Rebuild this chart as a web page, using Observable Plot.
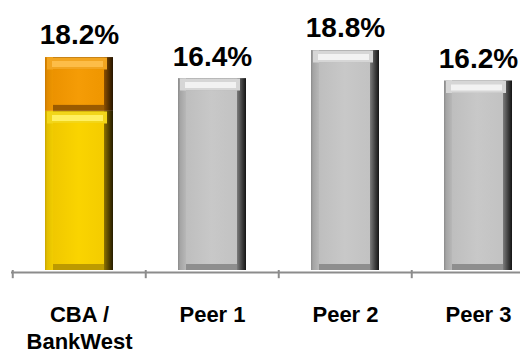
<!DOCTYPE html>
<html>
<head>
<meta charset="utf-8">
<script src="https://cdn.jsdelivr.net/npm/d3@7"></script>
<script src="https://cdn.jsdelivr.net/npm/@observablehq/plot@0.6"></script>
<style>
  html, body { margin: 0; padding: 0; background: #fff; }
  #chart { width: 520px; height: 355px; overflow: hidden; }
</style>
</head>
<body>
<div id="chart"></div>
<script>
// ---- data ----
const categories = ["CBA / BankWest", "Peer 1", "Peer 2", "Peer 3"];
const tickLabels = ["CBA /\nBankWest", "Peer 1", "Peer 2", "Peer 3"];
const totals = [18.2, 16.4, 18.8, 16.2];
const cbaSegments = ["Core", "BankWest"];
const cbaValues = [13.6, 4.6];

// ---- palettes (styling) ----
const palettes = {
  gray:   {side: "url(#side-gray)",   top1: "#d6d6d6", top2: "#f2f2f2", face: "url(#face-gray)"},
  yellow: {side: "url(#side-yellow)", top1: "#f2d61a", top2: "#fff060", face: "url(#face-yellow)"},
  orange: {side: "url(#side-orange)", top1: "#f2a520", top2: "#fdbd48", face: "url(#face-orange)"}
};

// segments table
const segments = [];
let acc = 0;
cbaSegments.forEach((s, i) => {
  segments.push({cat: categories[0], y1: acc, y2: acc + cbaValues[i], pal: palettes[i === 0 ? "yellow" : "orange"]});
  acc += cbaValues[i];
});
categories.slice(1).forEach((c, i) => {
  segments.push({cat: c, y1: 0, y2: totals[i + 1], pal: palettes.gray});
});
const labels = categories.map((c, i) => ({cat: c, total: totals[i], tick: tickLabels[i]}));

const font = "'Liberation Sans', Arial, Helvetica, sans-serif";

const svg = Plot.plot({
  width: 520,
  height: 355,
  marginLeft: 11,
  marginRight: 0,
  marginTop: 36,
  marginBottom: 85,
  style: {fontFamily: font, background: "white", color: "black"},
  x: {domain: categories, range: [11, 545], paddingInner: 0.49, paddingOuter: 0.245, axis: null},
  y: {domain: [0, 20], axis: null},
  color: {type: "identity"},
  marks: [
    // bevelled bars
    Plot.barY(segments, {x: "cat", y1: "y1", y2: "y2", fill: d => d.pal.side}),
    Plot.tickY(segments, {x: "cat", y: "y2", stroke: d => d.pal.top1, strokeWidth: 12, dy: 6, insetLeft: 2, insetRight: 6}),
    Plot.tickY(segments, {x: "cat", y: "y2", stroke: d => d.pal.top2, strokeWidth: 6, dy: 6.5, insetLeft: 7, insetRight: 10}),
    Plot.barY(segments, {x: "cat", y1: "y1", y2: "y2", fill: d => d.pal.face, insetLeft: 8, insetRight: 9, insetTop: 12, insetBottom: 6}),
    // axis baseline and boundary ticks
    Plot.ruleY([0], {stroke: "#8c8c8c", strokeWidth: 2, dy: 2}),
    Plot.ruleX(categories, {x: d => d, dx: -66.75, y1: 0, y2: -0.7, stroke: "#8c8c8c", strokeWidth: 2}),
    // value labels
    Plot.text(labels, {x: "cat", y: "total", text: d => d.total.toFixed(1) + "%", lineAnchor: "top", dy: -33, fontSize: 28, fontWeight: "bold", fill: "black"}),
    // category labels
    Plot.text(labels, {x: "cat", text: "tick", frameAnchor: "bottom", lineAnchor: "top", dy: 33, lineHeight: 1.2, fontSize: 22, fontWeight: "bold", fill: "black"})
  ]
});

// gradient definitions
const defs = d3.select(svg).insert("defs", ":first-child");
function grad(id, stops) {
  const g = defs.append("linearGradient").attr("id", id).attr("x1", 0).attr("x2", 1).attr("y1", 0).attr("y2", 0);
  stops.forEach(([o, c]) => g.append("stop").attr("offset", o).attr("stop-color", c));
}
grad("side-gray", [[0, "#8a8a8a"], [0.03, "#a4a4a4"], [0.12, "#b8b8b8"], [0.125, "#8e8e8e"], [0.86, "#8e8e8e"], [0.87, "#7a7a7a"], [0.95, "#3a3a3a"], [1, "#141414"]]);
grad("face-gray", [[0, "#bebebe"], [0.5, "#c8c8c8"], [1, "#c2c2c2"]]);
grad("side-yellow", [[0, "#c8a400"], [0.03, "#e2be00"], [0.12, "#f2ce00"], [0.125, "#bc9a00"], [0.86, "#bc9a00"], [0.87, "#8a7000"], [0.95, "#4a3a00"], [1, "#241c00"]]);
grad("face-yellow", [[0, "#f0c800"], [0.5, "#fad400"], [1, "#f4cc00"]]);
grad("side-orange", [[0, "#c87800"], [0.03, "#e08a00"], [0.12, "#ee9600"], [0.125, "#9a5a00"], [0.86, "#9a5a00"], [0.87, "#8a4e00"], [0.95, "#4a2a00"], [1, "#241400"]]);
grad("face-orange", [[0, "#ec9200"], [0.5, "#f59c06"], [1, "#ef9600"]]);

document.getElementById("chart").appendChild(svg);
</script>
</body>
</html>
